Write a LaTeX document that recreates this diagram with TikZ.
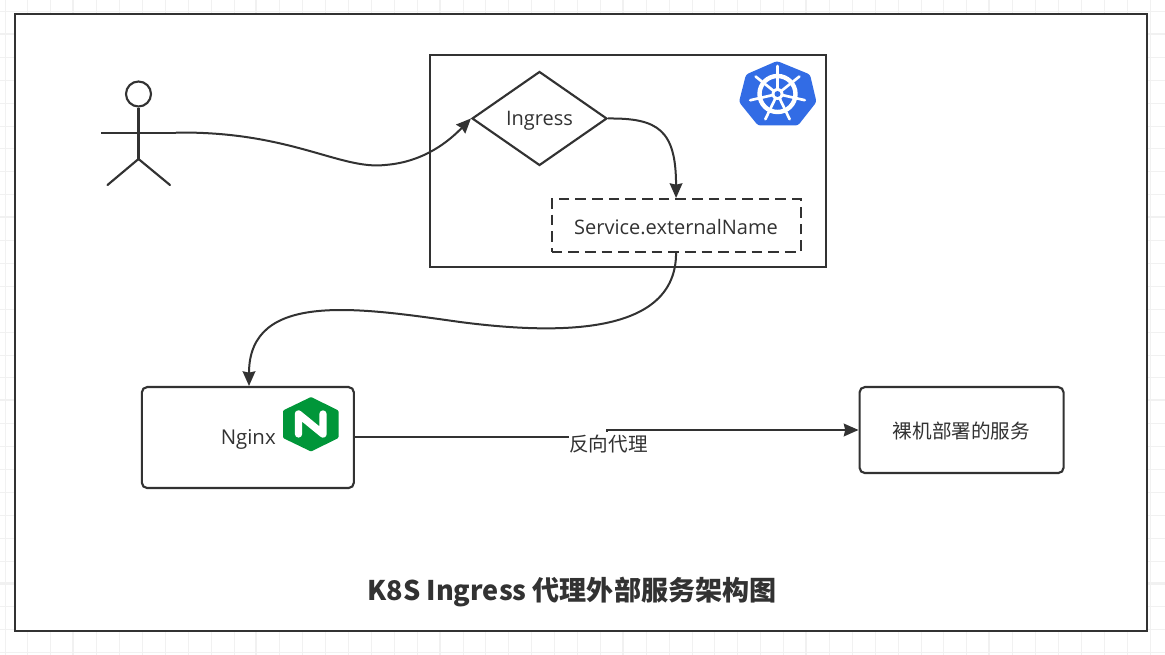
\documentclass[tikz,border=0pt]{standalone}
\usepackage{fontspec}
\setmainfont{Open Sans}
\newfontfamily\cjk{Noto Sans CJK SC}
\usetikzlibrary{shapes.geometric,arrows.meta}
\definecolor{ink}{HTML}{323232}
\definecolor{gridc}{HTML}{F1F1F1}
\definecolor{kblue}{HTML}{326CE5}
\definecolor{ngreen}{HTML}{009639}
\tikzset{
  shapeline/.style={draw=ink,line width=1.6pt},
  flow/.style={draw=ink,line width=1.5pt,-{Stealth[length=11pt,width=9.5pt,inset=1pt]}},
  lbl/.style={text=ink,font=\fontsize{15}{18}\selectfont,inner sep=0pt},
  boxn/.style={shapeline,rectangle,inner sep=0pt,anchor=north west},
  spoke/.style={draw=white,line width=2pt,line cap=round},
}
\begin{document}
\begin{tikzpicture}[x=0.75pt,y=-0.75pt]
\useasboundingbox (0,0) rectangle (1165,655);
\fill[white] (0,0) rectangle (1165,655);
% background grid
\foreach \k in {0,...,50}{
  \draw[gridc,line width=0.7pt] ({5+22.9*\k},0) -- ({5+22.9*\k},655);
}
\foreach \k in {0,...,28}{
  \draw[gridc,line width=0.7pt] (0,{11.5+22.9*\k}) -- (1165,{11.5+22.9*\k});
}
\foreach \k in {0,...,6}{
  \draw[gridc,line width=1.3pt] ({73+183.2*\k},0) -- ({73+183.2*\k},655);
}
\foreach \k in {0,...,3}{
  \draw[gridc,line width=1.3pt] (0,{34+183*\k}) -- (1165,{34+183*\k});
}
% frame
\node[boxn,line width=1.3pt,fill=white,minimum width=1132*0.75pt,minimum height=617*0.75pt] (frame) at (13.8,13) {};
% actor
\node[shapeline,circle,minimum size=25*0.75pt,inner sep=0pt] (head) at (138.5,94) {};
\coordinate (armL) at (101,132.6);
\coordinate (armR) at (176,132.6);
\coordinate (hip) at (138.5,159);
\coordinate (footL) at (107.5,185);
\coordinate (footR) at (170,185);
\draw[shapeline] (head.south) -- (hip);
\draw[shapeline] (armL) -- (armR);
\draw[shapeline,line cap=round] (footL) -- (hip) -- (footR);
% k8s box
\node[boxn,minimum width=396*0.75pt,minimum height=212*0.75pt] (k8s) at (428.5,53.8) {};
\node[shapeline,diamond,aspect=1.436,minimum width=135*0.75pt,minimum height=94*0.75pt,inner sep=0pt] (ingress) at (539.5,118.5) {};
\node[lbl,yshift=-1.6pt] at (ingress.center) {Ingress};
\node[boxn,dashed,dash pattern=on 8pt off 4.5pt,minimum width=249*0.75pt,minimum height=53*0.75pt] (svc) at (550.5,198) {};
\node[lbl,yshift=-1pt] at (svc.center) {Service.externalName};
% k8s logo
\fill[kblue,rounded corners=2pt] (777,61) -- (810,74.5) -- (816.5,102) -- (798,125.5) -- (758,125.5) -- (739,102) -- (746,74.5) -- cycle;
\coordinate (wheel) at (777.5,94);
\draw[white,line width=3.3pt] (wheel) circle [radius=18];
\foreach \a in {-90,-38.6,12.8,64.3,115.7,167.1,218.6}{
  \draw[spoke] (wheel) -- ([shift={(\a:28)}]wheel);
}
\fill[white] (wheel) circle [radius=6];
\fill[kblue] (wheel) circle [radius=3];
% nginx box
\node[boxn,rounded corners=4pt,minimum width=212*0.75pt,minimum height=101*0.75pt] (nginx) at (140.8,386) {};
\node[lbl,anchor=west,font=\fontsize{15.3}{18}\selectfont] at (220.5,439) {Nginx};
\fill[ngreen,rounded corners=0.8pt] (311,397) -- (338.5,410.5) -- (338.5,438) -- (311,451.5) -- (283,438) -- (283,410.5) -- cycle;
\draw[white,line width=5.5pt,line cap=round,line join=round] (298.5,434) -- (298.5,414) -- (323,434) -- (323,414);
% bare metal box
\node[boxn,rounded corners=4pt,minimum width=204*0.75pt,minimum height=86*0.75pt] (metal) at (858.5,386) {};
\node[lbl,font=\cjk\fontsize{14.7}{18}\selectfont] at (961.5,431) {裸机部署的服务};
% connectors
\draw[flow] (armR) .. controls (290,131) and (340,170) .. (385,165) .. controls (425,162) and (450,140) .. (ingress.west);
\draw[flow] (ingress.east) .. controls (658,118) and (676,130) .. (svc.north);
\draw[flow] (svc.south) .. controls (676,335) and (560,335) .. (460,322) .. controls (360,308) and (249,290) .. (nginx.north -| 249,0);
\coordinate (bend1) at (607,437.5);
\coordinate (bend2) at (607,430);
\draw[flow] (nginx.east |- 0,437.5) -- (bend1) -- (bend2) -- (metal.west |- bend2);
\node[lbl,fill=white,font=\cjk\fontsize{14.7}{18}\selectfont,inner xsep=0pt,inner ysep=1pt,minimum width=80*0.75pt,minimum height=23*0.75pt] (rp) at (608.5,444) {反向代理};
% title
\node[text=ink,font=\cjk\bfseries\fontsize{20.3}{24}\selectfont,inner sep=0pt] (title) at (572,592) {K8S Ingress 代理外部服务架构图};
\end{tikzpicture}
\end{document}
